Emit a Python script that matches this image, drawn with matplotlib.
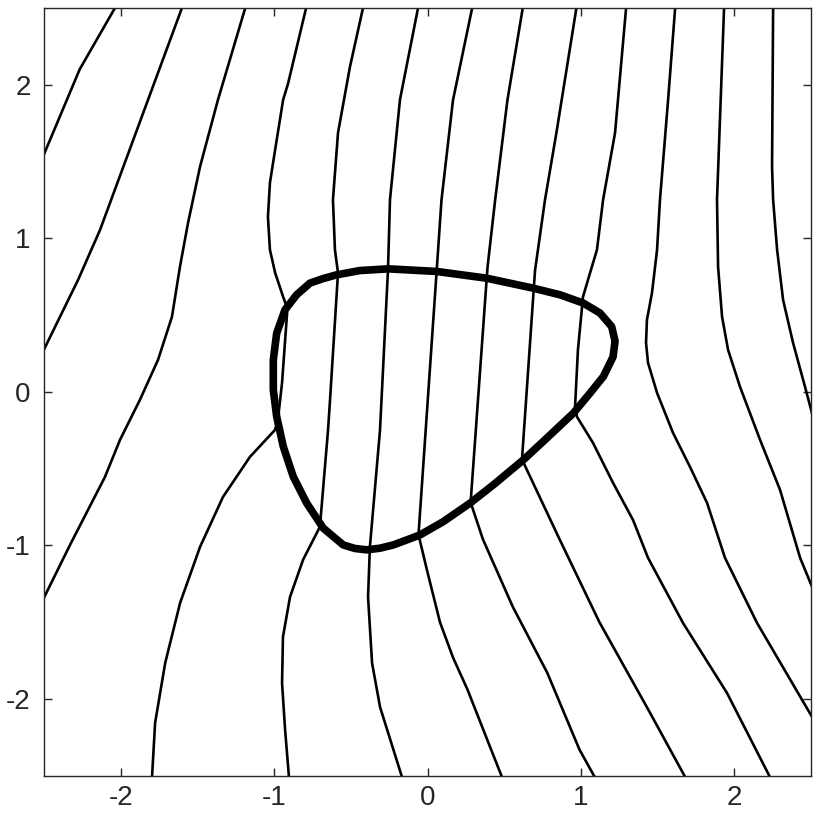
import matplotlib
matplotlib.use("Agg")
import matplotlib.pyplot as plt
from matplotlib.patches import Polygon

plt.rcParams['font.family'] = ['Liberation Sans', 'DejaVu Sans']
plt.rcParams['axes.unicode_minus'] = False

# Thin contour lines (data coordinates)
line01_x = [-2.04, -2.27, -2.51]
line01_y = [2.50, 2.10, 1.53]
line02_x = [-1.603, -1.824, -2.137, -2.280, -2.510]
line02_y = [2.50, 1.902, 1.055, 0.730, 0.261]
line03_x = [-1.190, -1.368, -1.485, -1.563, -1.616, -1.668, -1.759, -1.877, -2.007, -2.105, -2.333, -2.510]
line03_y = [2.50, 1.902, 1.466, 1.101, 0.814, 0.489, 0.208, -0.052, -0.313, -0.554, -0.997, -1.355]
line04_x = [-0.793, -0.911, -0.943, -0.995, -1.029, -1.042, -1.029, -0.995, -0.943, -0.917, -0.917,
            -0.950, -0.977, -0.996, -1.159, -1.335, -1.485, -1.615, -1.712, -1.778, -1.798]
line04_y = [2.50, 2.007, 1.902, 1.577, 1.362, 1.140, 0.925, 0.775, 0.619, 0.547, 0.515,
            0.059, -0.182, -0.248, -0.423, -0.684, -1.010, -1.375, -1.765, -2.156, -2.508]
line05_x = [-0.422, -0.507, -0.585, -0.618, -0.605, -0.585, -0.637, -0.650, -0.703, -0.813, -0.898, -0.944, -0.950, -0.930, -0.905]
line05_y = [2.50, 2.117, 1.687, 1.251, 0.925, 0.775, -0.052, -0.248, -0.879, -1.094, -1.336, -1.596, -1.896, -2.202, -2.508]
line06_x = [-0.063, -0.181, -0.246, -0.259, -0.311, -0.377, -0.389, -0.363, -0.311, -0.168]
line06_y = [2.50, 1.902, 1.251, 0.795, -0.248, -1.010, -1.336, -1.765, -2.052, -2.508]
line07_x = [0.29, 0.165, 0.09, 0.06, -0.06, -0.005, 0.08, 0.165, 0.26, 0.39, 0.485]
line07_y = [2.50, 1.90, 1.25, 0.81, -0.93, -1.16, -1.50, -1.73, -1.94, -2.27, -2.51]
line08_x = [0.62, 0.52, 0.44, 0.39, 0.28, 0.36, 0.555, 0.78, 0.99, 1.09]
line08_y = [2.50, 1.90, 1.25, 0.81, -0.72, -0.96, -1.40, -1.83, -2.33, -2.51]
line09_x = [0.97, 0.84, 0.765, 0.70, 0.615, 0.86, 1.12, 1.45, 1.68]
line09_y = [2.50, 1.69, 1.25, 0.79, -0.44, -0.96, -1.50, -2.09, -2.51]
line10_x = [1.294, 1.222, 1.144, 1.104, 1.059, 1.013, 0.980, 0.961, 0.974, 1.078, 1.209, 1.339, 1.437, 1.665, 1.952, 2.233]
line10_y = [2.50, 1.687, 1.251, 0.925, 0.775, 0.619, 0.274, -0.098, -0.163, -0.332, -0.593, -0.834, -1.081, -1.505, -1.961, -2.51]
line11_x = [1.614, 1.568, 1.515, 1.496, 1.463, 1.430, 1.424, 1.437, 1.496, 1.600, 1.711, 1.822, 1.939, 2.148, 2.507]
line11_y = [2.50, 1.902, 1.251, 0.925, 0.645, 0.469, 0.319, 0.189, -0.007, -0.267, -0.489, -0.723, -1.081, -1.505, -2.117]
line12_x = [1.933, 1.887, 1.894, 1.920, 1.959, 2.037, 2.168, 2.298, 2.429, 2.507]
line12_y = [2.50, 1.251, 0.814, 0.489, 0.274, 0.033, -0.313, -0.638, -1.081, -1.270]
line13_x = [2.253, 2.246, 2.253, 2.279, 2.318, 2.383, 2.461, 2.513]
line13_y = [2.50, 1.466, 1.251, 0.925, 0.599, 0.319, 0.033, -0.163]

# Thick closed boundary curve
boundary_x = [-0.768, -0.681, -0.594, -0.442, -0.257, 0.059, 0.385, 0.689, 0.863, 1.015, 1.124,
              1.200, 1.222, 1.209, 1.146, 1.059, 0.950, 0.776, 0.624, 0.428, 0.276,
              0.102, -0.050, -0.224, -0.310, -0.398, -0.475, -0.551, -0.681, -0.789, -0.877, -0.942, -0.985,
              -1.007, -1.007, -0.985, -0.931, -0.855]
boundary_y = [0.708, 0.738, 0.762, 0.790, 0.801, 0.784, 0.740, 0.675, 0.632, 0.578, 0.513,
              0.425, 0.330, 0.228, 0.100, -0.008, -0.139, -0.302, -0.443, -0.606, -0.725,
              -0.845, -0.932, -0.997, -1.018, -1.029, -1.020, -0.997, -0.888, -0.725, -0.552, -0.356, -0.161,
              0.013, 0.208, 0.382, 0.534, 0.632]

ticks = [-2, -1, 0, 1, 2]
tick_labels = ['-2', '-1', '0', '1', '2']

lines = [(line01_x, line01_y), (line02_x, line02_y), (line03_x, line03_y),
         (line04_x, line04_y), (line05_x, line05_y), (line06_x, line06_y),
         (line07_x, line07_y), (line08_x, line08_y), (line09_x, line09_y),
         (line10_x, line10_y), (line11_x, line11_y), (line12_x, line12_y),
         (line13_x, line13_y)]

fig = plt.figure(figsize=(8.3, 8.3), dpi=100)
ax = fig.add_axes([0.0535, 0.0654, 0.9236, 0.9250])

for lx, ly in lines:
    ax.plot(lx, ly, color='black', lw=1.9, solid_joinstyle='round', solid_capstyle='round', zorder=2)

blob = Polygon(list(zip(boundary_x, boundary_y)), closed=True, fill=False,
               edgecolor='black', lw=5.5, joinstyle='round', zorder=3)
ax.add_patch(blob)

ax.set_xlim(-2.5, 2.5)
ax.set_ylim(-2.5, 2.5)
ax.set_xticks(ticks)
ax.set_xticklabels(tick_labels)
ax.set_yticks(ticks)
ax.set_yticklabels(tick_labels)
ax.tick_params(direction='in', length=6, width=1.0, colors='#262626',
               labelsize=20, top=True, right=True)
ax.tick_params(axis='x', pad=7)
ax.tick_params(axis='y', pad=10)
for s in ax.spines.values():
    s.set_color('#262626')
    s.set_linewidth(1.0)

fig.savefig('out.png', dpi=100)
